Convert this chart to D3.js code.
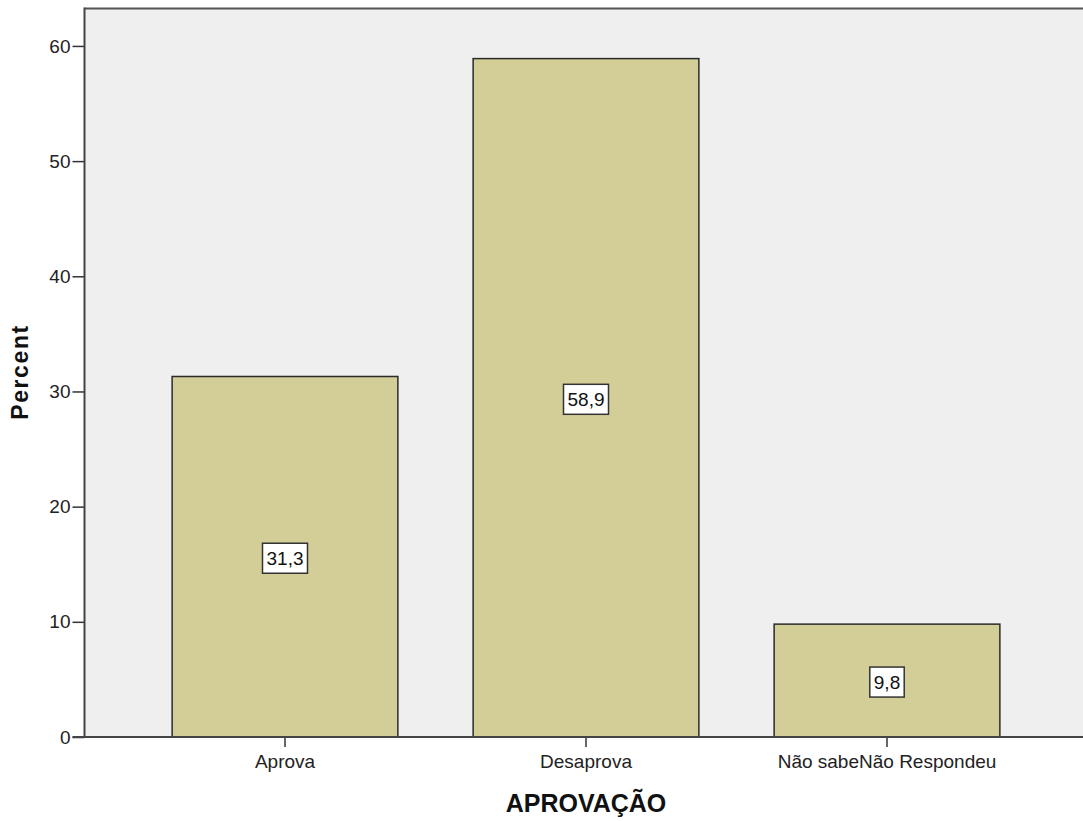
<!DOCTYPE html>
<html><head><meta charset="utf-8">
<script src="https://cdn.jsdelivr.net/npm/d3@7"></script>
<style>body{margin:0;background:#fff}svg{display:block}text{font-family:"Liberation Sans",Arial,sans-serif}</style>
</head><body>
<svg id="c" width="1083" height="821"></svg>
<script>
const categories = ["Aprova", "Desaprova", "Não sabeNão Respondeu"];
const percents = [31.3, 58.9, 9.8];
const valueLabels = ["31,3", "58,9", "9,8"];
const yTicks = [0, 10, 20, 30, 40, 50, 60];
const xTitle = "APROVAÇÃO";
const yTitle = "Percent";

const svg = d3.select("#c");
const pLeft = 84.5, pTop = 8.5, pRight = 1090, pBottom = 737;
const y = d3.scaleLinear().domain([0, 63.25]).range([pBottom, pTop]);
const x = d3.scaleBand().domain(categories).range([134.5, 1037.5]).paddingInner(0.25).paddingOuter(0.125);

svg.append("rect").attr("x", pLeft).attr("y", pTop).attr("width", pRight - pLeft).attr("height", pBottom - pTop).attr("fill", "#efefef");

svg.selectAll("rect.bar").data(percents).join("rect").attr("class", "bar")
  .attr("x", (d, i) => x(categories[i]))
  .attr("y", d => y(d))
  .attr("width", x.bandwidth())
  .attr("height", d => y(0) - y(d))
  .attr("fill", "#d3ce97").attr("stroke", "#2b2b2b").attr("stroke-width", 1.5);

svg.append("line").attr("x1", pLeft).attr("x2", pRight).attr("y1", pTop).attr("y2", pTop).attr("stroke", "#555").attr("stroke-width", 2);
const yAxis = d3.axisLeft(y).tickValues(yTicks).tickSize(12).tickPadding(2);
const gy = svg.append("g").attr("transform", `translate(${pLeft},0)`).call(yAxis);
gy.select(".domain").remove();
gy.append("line").attr("x1", 0).attr("x2", 0).attr("y1", pTop - 1).attr("y2", pBottom + 1).attr("stroke", "#444").attr("stroke-width", 2);
gy.selectAll(".tick line").attr("stroke", "#333").attr("stroke-width", 1.5);
gy.selectAll(".tick text").attr("font-size", 19).attr("fill", "#222");

const xAxis = d3.axisBottom(x).tickSize(10).tickPadding(7.5);
const gx = svg.append("g").attr("transform", `translate(0,${pBottom})`).call(xAxis);
gx.select(".domain").remove();
gx.append("line").attr("x1", pLeft - 12).attr("x2", pRight).attr("y1", 0).attr("y2", 0).attr("stroke", "#444").attr("stroke-width", 2);
gx.selectAll(".tick line").attr("stroke", "#333").attr("stroke-width", 1.5);
gx.selectAll(".tick text").attr("font-size", 19).attr("fill", "#222");

const lbl = svg.selectAll("g.lbl").data(percents).join("g").attr("class", "lbl")
  .attr("transform", (d, i) => `translate(${x(categories[i]) + x.bandwidth() / 2},${y(d / 2) + 1.5})`);
lbl.each(function (d, i) {
  const g = d3.select(this);
  const t = g.append("text").attr("text-anchor", "middle").attr("dy", "0.35em").attr("font-size", 19).attr("fill", "#111").text(valueLabels[i]);
  const w = t.node().getComputedTextLength();
  g.insert("rect", "text").attr("x", -w / 2 - 4).attr("y", -15).attr("width", w + 8).attr("height", 30)
    .attr("fill", "#fff").attr("stroke", "#333").attr("stroke-width", 1.5);
});

svg.append("text").attr("x", x(categories[1]) + x.bandwidth() / 2).attr("y", 812).attr("text-anchor", "middle")
  .attr("font-size", 25).attr("font-weight", "bold").attr("fill", "#111").text(xTitle);
svg.append("text").attr("transform", "translate(28,372) rotate(-90)").attr("text-anchor", "middle")
  .attr("font-size", 23).attr("font-weight", "bold").attr("letter-spacing", 1.6).attr("fill", "#111").text(yTitle);
</script>
</body></html>
